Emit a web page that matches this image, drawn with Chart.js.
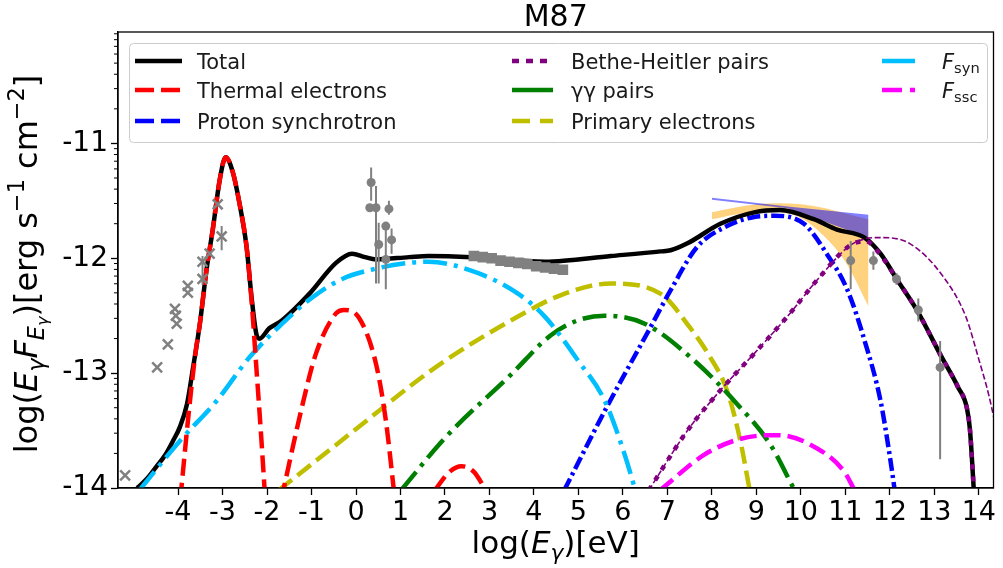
<!DOCTYPE html>
<html><head><meta charset="utf-8">
<script src="https://cdn.jsdelivr.net/npm/chart.js@4.4.0/dist/chart.umd.min.js"></script>
<style>html,body{margin:0;padding:0;background:#fff;}#wrap{width:1003px;height:568px;}</style>
</head><body><div id="wrap"><canvas id="c" width="1003" height="568"></canvas></div>
<script>
const FONT = "'DejaVu Sans', sans-serif";
const X_TICKS = [-4,-3,-2,-1,0,1,2,3,4,5,6,7,8,9,10,11,12,13,14];
const Y_TICKS = [-14,-13,-12,-11];
const X_MIN = -5.35, X_MAX = 14.33, Y_MIN = -14, Y_MAX = -10.03;

// Total
const totalX = [-4.92,-4.7,-4.5,-4.3,-4.1,-3.96,-3.8,-3.67,-3.51,-3.36,-3.22,-3.06,-2.93,-2.77,-2.62,-2.46,-2.35,-2.24,-2.17,-1.95,-1.66,-1.05,-0.45,-0.09,0.2,0.45,1.19,1.63,2.6,4.25,5.73,6.85,7.07,7.45,8.19,8.95,9.53,10.29,10.81,11.43,11.79,12.17,12.62,13.15,13.53,13.73,13.8,13.9];
const totalY = [-14,-13.92,-13.82,-13.72,-13.58,-13.47,-13.27,-12.97,-12.57,-12.1,-11.75,-11.31,-11.12,-11.25,-11.52,-11.9,-12.33,-12.66,-12.7,-12.61,-12.54,-12.31,-12.04,-11.96,-11.99,-12.01,-11.99,-11.98,-11.99,-12.03,-11.98,-11.94,-11.93,-11.87,-11.7,-11.6,-11.58,-11.66,-11.75,-11.82,-11.96,-12.19,-12.46,-12.85,-13.12,-13.3,-13.49,-14.1];
// Thermal electrons (three humps)
const thermal1X = [-3.95,-3.74,-3.6,-3.51,-3.36,-3.22,-3.06,-2.93,-2.77,-2.62,-2.46,-2.35,-2.24,-2.13,-2.04];
const thermal1Y = [-14.1,-13.27,-12.8,-12.57,-12.1,-11.75,-11.31,-11.12,-11.25,-11.52,-11.9,-12.36,-12.95,-13.56,-14.1];
const thermal2X = [-1.68,-1.2,-0.9,-0.45,-0.27,0.07,0.45,0.67,0.86];
const thermal2Y = [-14.1,-13.27,-12.83,-12.48,-12.45,-12.52,-12.92,-13.41,-14.05];
const thermal3X = [1.77,2.1,2.37,2.65,2.92];
const thermal3Y = [-14.02,-13.86,-13.81,-13.86,-14.02];
// Synchrotron (F_syn)
const synX = [-4.87,-3.96,-3.13,-2.39,-1.66,-1.05,-0.31,0.45,1.19,1.63,2.75,3.65,4.25,4.99,5.59,6.04,6.28];
const synY = [-14.02,-13.59,-13.24,-12.86,-12.57,-12.36,-12.18,-12.09,-12.04,-12.03,-12.13,-12.31,-12.51,-12.89,-13.24,-13.71,-14.02];
// Primary electrons
const primX = [-1.74,0.51,1.19,2.01,3.49,4.61,5.73,6.85,7.5,7.96,8.34,8.64,8.85];
const primY = [-14.02,-13.33,-13.12,-12.89,-12.54,-12.32,-12.22,-12.31,-12.6,-12.86,-13.15,-13.59,-14.02];
// gamma-gamma pairs
const ggX = [1.01,2.01,3.49,4.38,4.99,5.59,6.49,7.6,8.57,9.31,9.86];
const ggY = [-14.02,-13.56,-13.01,-12.67,-12.54,-12.5,-12.57,-12.89,-13.27,-13.62,-14.02];
// Proton synchrotron
const protX = [4.68,5.59,6.62,7.07,7.67,8.34,8.95,9.4,10.07,10.58,11.05,11.45,11.79,12.01,12.12];
const protY = [-14.02,-13.33,-12.6,-12.28,-11.9,-11.72,-11.64,-11.63,-11.7,-11.96,-12.28,-12.74,-13.24,-13.75,-14.05];
// Bethe-Heitler pairs (absorbed, thick dotted)
const bhX = [6.58,7.45,8.19,8.95,9.69,10.43,11.1,11.45,11.79,12.17,12.62,13.15,13.53,13.73,13.8,13.9];
const bhY = [-14.02,-13.5,-13.15,-12.83,-12.51,-12.16,-11.89,-11.85,-11.97,-12.19,-12.46,-12.85,-13.12,-13.3,-13.49,-14.1];
// Bethe-Heitler (unabsorbed, thin dashed)
const bh2X = [6.58,7.45,8.19,8.95,9.69,10.43,11.1,11.45,11.77,12.44,13.2,13.71,14.0,14.23,14.45];
const bh2Y = [-14.02,-13.5,-13.15,-12.83,-12.51,-12.16,-11.89,-11.83,-11.82,-11.87,-12.16,-12.51,-12.88,-13.2,-13.6];
// SSC
const sscX = [6.83,7.83,8.57,9.31,9.5,10.2,10.96,11.21];
const sscY = [-14.02,-13.71,-13.58,-13.54,-13.54,-13.62,-13.85,-14.02];
// Bowties
const orangeX = [8.0,8.5,9.0,9.5,10.0,10.5,11.0,11.52];
const orangeHi = [-11.6,-11.56,-11.53,-11.52,-11.53,-11.56,-11.61,-11.66];
const orangeLo = [-11.66,-11.62,-11.6,-11.6,-11.65,-11.8,-12.03,-12.42];
const blueX = [8.0,9.7,11.52];
const blueHi = [-11.472,-11.55,-11.62];
const blueLo = [-11.49,-11.565,-11.82];
// Data: x markers (IR/optical)
const crossX = [-5.19,-4.47,-4.23,-4.07,-4.05,-4.03,-3.78,-3.78,-3.45,-3.45,-3.29,-3.11,-3.02];
const crossY = [-13.89,-12.95,-12.75,-12.44,-12.5,-12.57,-12.24,-12.3,-12.03,-12.18,-11.96,-11.53,-11.81];
// Data: dots (radio / optical, gamma rays)
const dotX = [0.34,0.31,0.45,0.51,0.67,0.67,0.74,0.8,11.12,11.63,12.15,12.64,13.13];
const dotY = [-11.34,-11.56,-11.56,-11.88,-12.01,-11.72,-11.57,-11.84,-12.02,-12.02,-12.18,-12.45,-12.95];
// Error bars
const errX  = [-3.45,-3.02,0.34,0.45,0.51,0.67,0.74,0.8,11.12,11.63,12.15,12.64,13.13];
const errHi = [-11.98,-11.72,-11.21,-11.37,-11.69,-11.7,-11.5,-11.74,-11.85,-11.94,-12.13,-12.35,-12.72];
const errLo = [-12.23,-11.93,-11.5,-12.22,-12.22,-12.27,-11.62,-11.96,-12.27,-12.1,-12.23,-12.55,-13.75];
// X-ray squares
const sqX = [2.65,2.85,3.05,3.25,3.45,3.65,3.85,4.05,4.25,4.45,4.65];
const sqY = [-11.98,-11.99,-12.0,-12.02,-12.03,-12.04,-12.05,-12.07,-12.08,-12.09,-12.1];

function pts(xs, ys){ return xs.map((x,i)=>({x:x, y:ys[i]})); }
function joinGaps(...segs){ const out=[]; segs.forEach((s,i)=>{ if(i>0) out.push({x:(out[out.length-1].x+s[0].x)/2, y:null}); out.push(...s); }); return out; }
const errData = []; errX.forEach((x,i)=>{ errData.push({x:x,y:errHi[i]},{x:x,y:errLo[i]},{x:x+0.001,y:null}); });

const GRAY = '#808080';
const line = (data, color, width, dash, order, extra) => Object.assign({
  data, showLine:true, borderColor:color, backgroundColor:color, borderWidth:width, borderDash:dash||[],
  pointRadius:0, pointHoverRadius:0, cubicInterpolationMode:'monotone', spanGaps:false, fill:false, order, borderCapStyle:'butt'
}, extra||{});

const datasets = [
  line(pts(orangeX, orangeHi), 'rgba(0,0,0,0)', 0, [], 95, {fill:{target:'+1'}, backgroundColor:'rgba(255,165,0,0.5)'}),
  line(pts(orangeX, orangeLo), 'rgba(0,0,0,0)', 0, [], 96),
  line(pts(blueX, blueHi), 'rgba(0,0,0,0)', 0, [], 90, {fill:{target:'+1'}, backgroundColor:'rgba(0,0,255,0.5)', cubicInterpolationMode:'default', tension:0}),
  line(pts(blueX, blueLo), 'rgba(0,0,0,0)', 0, [], 91, {cubicInterpolationMode:'default', tension:0}),
  line(pts(primX, primY), '#bfbf00', 4.5, [17,7], 20),
  line(pts(ggX, ggY), '#008000', 4.5, [24,7,4,7], 19),
  line(pts(sscX, sscY), '#ff00ff', 4.5, [17,7], 18),
  line(pts(protX, protY), '#0000ff', 4.5, [13,4,3,4], 17),
  line(pts(totalX, totalY), '#000000', 4.5, [], 12),
  line(pts(synX, synY), '#00bfff', 4.5, [24,7,4,7], 10),
  line(joinGaps(pts(thermal1X,thermal1Y), pts(thermal2X,thermal2Y), pts(thermal3X,thermal3Y)), '#ff0000', 4.5, [17,7], 9),
  line(pts(bh2X, bh2Y), '#800080', 1.6, [6,2.6], 8),
  line(pts(bhX, bhY), '#800080', 4.5, [5,7], 7),
  line(errData, GRAY, 2, [], 3, {cubicInterpolationMode:'default', tension:0}),
  {data: pts(sqX, sqY), showLine:false, pointStyle:'rect', pointRadius:7.5, backgroundColor:GRAY, borderColor:GRAY, borderWidth:0, order:2},
  {data: pts(crossX, crossY), showLine:false, pointStyle:'crossRot', pointRadius:7, borderColor:GRAY, backgroundColor:GRAY, borderWidth:2.5, order:1},
  {data: pts(dotX, dotY), showLine:false, pointStyle:'circle', pointRadius:4.5, borderColor:GRAY, backgroundColor:GRAY, borderWidth:0, order:1}
];

function drawRich(ctx, parts, x, y, size, align){
  let w = 0;
  const fonts = parts.map(p=>{ const s=size*(p.s||1); const f=(p.it?'italic ':'')+s+'px '+FONT; ctx.font=f; const m=ctx.measureText(p.t).width; w+=m; return {f, m}; });
  let cx = align==='center' ? x - w/2 : (align==='right' ? x - w : x);
  ctx.textBaseline='alphabetic'; ctx.textAlign='left';
  parts.forEach((p,i)=>{ ctx.font=fonts[i].f; ctx.fillText(p.t, cx, y + (p.dy||0)*size); cx += fonts[i].m; });
}

const legendItems = [
  {col:0,row:0,label:[{t:'Total'}], color:'#000', dash:[], w:4.5},
  {col:0,row:1,label:[{t:'Thermal electrons'}], color:'#ff0000', dash:[19,7], w:4.5},
  {col:0,row:2,label:[{t:'Proton synchrotron'}], color:'#0000ff', dash:[19,7], w:4.5},
  {col:1,row:0,label:[{t:'Bethe-Heitler pairs'}], color:'#800080', dash:[7,7], w:4.5},
  {col:1,row:1,label:[{t:'γγ pairs'}], color:'#008000', dash:[], w:4.5},
  {col:1,row:2,label:[{t:'Primary electrons'}], color:'#bfbf00', dash:[18,10], w:4.5},
  {col:2,row:0,label:[{t:'F',it:1},{t:'syn',s:0.7,dy:0.22}], color:'#00bfff', dash:[], w:4.5},
  {col:2,row:1,label:[{t:'F',it:1},{t:'ssc',s:0.7,dy:0.22}], color:'#ff00ff', dash:[20,8], w:4.5}
];
const COLS = [{h0:135,h1:182,t:197},{h0:512,h1:553,t:571},{h0:882,h1:915,t:942}];
const ROWS = [61,90,121];

const deco = {
  id:'deco',
  afterDraw(chart){
    const ctx = chart.ctx, a = chart.chartArea, ys = chart.scales.y;
    ctx.save();
    ctx.strokeStyle='#000'; ctx.lineWidth=1.3;
    ctx.strokeRect(a.left, a.top, a.right-a.left, a.bottom-a.top);
    ctx.lineWidth=1;
    for(let n=-14;n<=-11;n++){ for(let k=2;k<=9;k++){ const v=n+Math.log10(k); if(v>Y_MAX) continue; const y=ys.getPixelForValue(v); ctx.beginPath(); ctx.moveTo(a.left-4,y); ctx.lineTo(a.left,y); ctx.stroke(); } }
    ctx.fillStyle='#000';
    drawRich(ctx,[{t:'M87'}], (a.left+a.right)/2, 26, 30, 'center');
    drawRich(ctx,[{t:'log('},{t:'E',it:1},{t:'γ',it:1,s:0.7,dy:0.22},{t:')[eV]'}], (a.left+a.right)/2, 553, 31, 'center');
    ctx.save(); ctx.translate(37,(a.top+a.bottom)/2+4); ctx.rotate(-Math.PI/2);
    drawRich(ctx,[{t:'log('},{t:'E',it:1},{t:'γ',it:1,s:0.7,dy:0.22},{t:'F',it:1},{t:'E',it:1,s:0.7,dy:0.22},{t:'γ',it:1,s:0.5,dy:0.34},{t:')[erg s'},{t:'−1',s:0.7,dy:-0.42},{t:' cm'},{t:'−2',s:0.7,dy:-0.42},{t:']'}], 0, 0, 32, 'center');
    ctx.restore();
    ctx.fillStyle='rgba(255,255,255,0.85)'; ctx.strokeStyle='#cccccc'; ctx.lineWidth=1;
    ctx.beginPath(); ctx.roundRect(129.5,43.5,858,99,4); ctx.fill(); ctx.stroke();
    legendItems.forEach(it=>{
      const c=COLS[it.col], y=ROWS[it.row];
      ctx.strokeStyle=it.color; ctx.lineWidth=it.w; ctx.setLineDash(it.dash); ctx.lineCap='butt';
      ctx.beginPath(); ctx.moveTo(c.h0,y); ctx.lineTo(c.h1,y); ctx.stroke(); ctx.setLineDash([]);
      ctx.fillStyle='#1a1a1a';
      drawRich(ctx, it.label, c.t, y+7.5, 21, 'left');
    });
    ctx.restore();
  }
};

new Chart(document.getElementById('c'), {
  type:'scatter',
  data:{datasets},
  options:{
    responsive:false, animation:false, devicePixelRatio:1,
    layout:{padding:{top:32,right:5,left:0,bottom:0}},
    plugins:{legend:{display:false}, title:{display:false}, tooltip:{enabled:false}, filler:{propagate:false}},
    scales:{
      x:{type:'linear', min:X_MIN, max:X_MAX,
        afterBuildTicks:s=>{ s.ticks = X_TICKS.map(v=>({value:v})); },
        afterFit:s=>{ s.height=80; },
        ticks:{autoSkip:false, maxRotation:0, color:'#000', font:{size:27,family:FONT}, padding:2, callback:v=>String(v)},
        grid:{drawOnChartArea:false, drawTicks:true, tickLength:7, tickColor:'#000', tickWidth:1.3},
        border:{display:true,color:'#000',width:1.3}},
      y:{type:'linear', min:Y_MIN, max:Y_MAX,
        afterBuildTicks:s=>{ s.ticks = Y_TICKS.map(v=>({value:v})); },
        afterFit:s=>{ s.width=118; },
        ticks:{color:'#000', font:{size:28,family:FONT}, padding:3, callback:v=>String(v)},
        grid:{drawOnChartArea:false, drawTicks:true, tickLength:7, tickColor:'#000', tickWidth:1.3},
        border:{display:true,color:'#000',width:1.3}}
    }
  },
  plugins:[deco]
});
</script></body></html>
